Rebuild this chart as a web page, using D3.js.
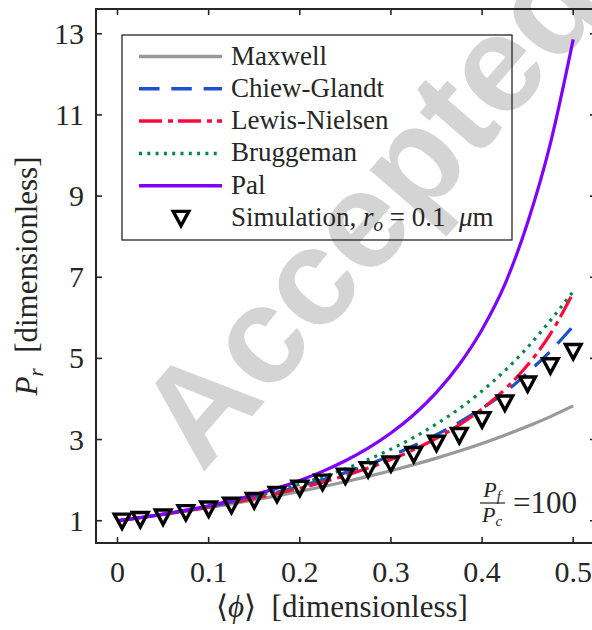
<!DOCTYPE html>
<html>
<head>
<meta charset="utf-8">
<script src="https://cdn.jsdelivr.net/npm/d3@7"></script>
<style>
  body { margin: 0; background: #fff; }
</style>
</head>
<body>
<div id="chart"></div>
<script>
// volume fraction grid for the model curves
const phi = [0, 0.025, 0.05, 0.075, 0.1, 0.125, 0.15, 0.175, 0.2, 0.225, 0.25,
             0.275, 0.3, 0.325, 0.35, 0.375, 0.4, 0.425, 0.45, 0.475, 0.5];

// model predictions
const maxwell = [1, 1.075, 1.153, 1.236, 1.323, 1.414, 1.511, 1.614, 1.723, 1.838, 1.961,
                 2.092, 2.232, 2.382, 2.543, 2.717, 2.904, 3.106, 3.326, 3.566, 3.83];
const chiew   = [1, 1.076, 1.158, 1.248, 1.346, 1.454, 1.572, 1.703, 1.848, 2.008, 2.185,
                 2.383, 2.602, 2.847, 3.121, 3.426, 3.769, 4.16, 4.65, 5.18, 5.8];
const lewis   = [1, 1.075, 1.156, 1.242, 1.335, 1.436, 1.547, 1.667, 1.8, 1.948, 2.113,
                 2.298, 2.509, 2.751, 3.032, 3.362, 3.757, 4.238, 4.836, 5.603, 6.62];
const brugg   = [1, 1.077, 1.161, 1.254, 1.358, 1.472, 1.6, 1.74, 1.9, 2.08, 2.28,
                 2.508, 2.763, 3.054, 3.384, 3.761, 4.198, 4.698, 5.275, 5.937, 6.65];
const pal     = [1, 1.077, 1.163, 1.26, 1.37, 1.496, 1.639, 1.803, 1.993, 2.216, 2.478,
                 2.789, 3.16, 3.61, 4.163, 4.851, 5.714, 6.825, 8.35, 10.3, 12.86];

// simulation points
const simPhi = [0.005, 0.025, 0.05, 0.075, 0.1, 0.125, 0.15, 0.175, 0.2, 0.225, 0.25,
                0.275, 0.3, 0.325, 0.35, 0.375, 0.4, 0.425, 0.45, 0.475, 0.5];
const simPr  = [1.0, 1.04, 1.1, 1.21, 1.3, 1.39, 1.51, 1.66, 1.81, 1.96, 2.11,
                2.27, 2.41, 2.64, 2.92, 3.11, 3.5, 3.91, 4.38, 4.83, 5.18];

const xTicks = [0, 0.1, 0.2, 0.3, 0.4, 0.5];
const yTicks = [1, 3, 5, 7, 9, 11, 13];

const series = [
  { name: "Maxwell",       values: maxwell, color: "#999999", dash: null },
  { name: "Chiew-Glandt",  values: chiew,   color: "#1f4fcc", dash: "20.5,11.8" },
  { name: "Lewis-Nielsen", values: lewis,   color: "#ff0a3c", dash: "23,6,5,5" },
  { name: "Bruggeman",     values: brugg,   color: "#00884a", dash: "3,5.3" },
  { name: "Pal",           values: pal,     color: "#7f00ff", dash: null }
];

const W = 592, H = 630;
const mLeft = 96, mRight = 596, mTop = 9, mBottom = 543;
const serif = "Liberation Serif, Times New Roman, serif";
const ink = "#262626";

const svg = d3.select("#chart").append("svg")
  .attr("width", W).attr("height", H)
  .attr("font-family", serif);

const x = d3.scaleLinear().domain([-0.0236, 0.525]).range([mLeft, mRight]);
const y = d3.scaleLinear().domain([0.451, 13.61]).range([mBottom, mTop]);

// watermark
svg.append("text")
  .attr("transform", "translate(202,474) rotate(-49)")
  .attr("font-family", "Liberation Sans, Arial, sans-serif")
  .attr("font-weight", "bold")
  .attr("font-size", 138)
  .attr("fill", "#d4d4d4")
  .text("Accepted");

// curves
const line = d3.line()
  .x((d, i) => x(phi[i]))
  .y(d => y(d))
  .curve(d3.curveMonotoneX);

const plot = svg.append("g");

series.forEach(s => {
  plot.append("path")
    .attr("d", line(s.values))
    .attr("fill", "none")
    .attr("stroke", s.color)
    .attr("stroke-width", 3.2)
    .attr("stroke-dasharray", s.dash);
});

// simulation markers (downward triangles)
const tri = "M-7.8,-6.6L7.8,-6.6L0,7.8Z";
plot.selectAll(".sim")
  .data(simPhi)
  .enter()
  .append("path")
  .attr("class", "sim")
  .attr("d", tri)
  .attr("transform", (d, i) => `translate(${x(d)},${y(simPr[i])})`)
  .attr("fill", "none")
  .attr("stroke", "#000")
  .attr("stroke-width", 3.4)
  .attr("stroke-linejoin", "miter");

// axes box with inward ticks on all sides
const axes = svg.append("g").attr("stroke", ink);
axes.append("rect")
  .attr("x", mLeft).attr("y", mTop)
  .attr("width", mRight - mLeft).attr("height", mBottom - mTop)
  .attr("fill", "none").attr("stroke-width", 2);

const tl = 6;
xTicks.forEach(t => {
  axes.append("line").attr("x1", x(t)).attr("x2", x(t))
    .attr("y1", mBottom).attr("y2", mBottom - tl).attr("stroke-width", 1.6);
  axes.append("line").attr("x1", x(t)).attr("x2", x(t))
    .attr("y1", mTop).attr("y2", mTop + tl).attr("stroke-width", 1.6);
});
yTicks.forEach(t => {
  axes.append("line").attr("x1", mLeft).attr("x2", mLeft + tl)
    .attr("y1", y(t)).attr("y2", y(t)).attr("stroke-width", 1.6);
  axes.append("line").attr("x1", mRight).attr("x2", mRight - tl)
    .attr("y1", y(t)).attr("y2", y(t)).attr("stroke-width", 1.6);
});

svg.append("g").selectAll("text")
  .data(xTicks)
  .enter()
  .append("text")
  .attr("x", d => x(d))
  .attr("y", 582)
  .attr("text-anchor", "middle")
  .attr("font-size", 30)
  .attr("fill", ink)
  .text(d => d === 0 ? "0" : d3.format(".1f")(d));

svg.append("g").selectAll("text")
  .data(yTicks)
  .enter()
  .append("text")
  .attr("x", 84)
  .attr("y", d => y(d) + 10)
  .attr("text-anchor", "end")
  .attr("font-size", 30)
  .attr("fill", ink)
  .text(d => d);

// axis labels
const xl = svg.append("text")
  .attr("x", 342)
  .attr("y", 617)
  .attr("text-anchor", "middle")
  .attr("font-size", 31)
  .attr("fill", ink);
xl.append("tspan").text("\u27E8");
xl.append("tspan").attr("font-style", "italic").text("\u03D5");
xl.append("tspan").text("\u27E9\u2002[dimensionless]");

const yl = svg.append("text")
  .attr("transform", `translate(37,${(mTop + mBottom) / 2}) rotate(-90)`)
  .attr("text-anchor", "middle")
  .attr("font-size", 31)
  .attr("fill", ink);
yl.append("tspan").attr("font-style", "italic").text("P");
yl.append("tspan").attr("font-style", "italic").attr("font-size", 21)
  .attr("dy", 6).text("r");
yl.append("tspan").attr("dy", -6).text("\u2002[dimensionless]");

// ratio annotation
const ann = svg.append("g").attr("fill", ink);
ann.append("text").attr("x", 492).attr("y", 497).attr("text-anchor", "middle")
  .attr("font-size", 22).attr("font-style", "italic")
  .call(t => {
    t.append("tspan").text("P");
    t.append("tspan").attr("dy", 4).attr("font-size", 15).text("f");
  });
ann.append("line").attr("x1", 480).attr("x2", 505).attr("y1", 503).attr("y2", 503)
  .attr("stroke", ink).attr("stroke-width", 1.2);
ann.append("text").attr("x", 492).attr("y", 522).attr("text-anchor", "middle")
  .attr("font-size", 22).attr("font-style", "italic")
  .call(t => {
    t.append("tspan").text("P");
    t.append("tspan").attr("dy", 4).attr("font-size", 15).text("c");
  });
ann.append("text").attr("x", 513).attr("y", 513)
  .attr("font-size", 31).text("=100");

// legend
const lg = svg.append("g");
lg.append("rect")
  .attr("x", 122).attr("y", 35).attr("width", 390).attr("height", 205)
  .attr("fill", "none").attr("stroke", ink).attr("stroke-width", 1.3);

const rowY = i => 56.5 + i * 32.3;
series.forEach((s, i) => {
  lg.append("line")
    .attr("x1", 139).attr("x2", 222)
    .attr("y1", rowY(i)).attr("y2", rowY(i))
    .attr("stroke", s.color).attr("stroke-width", 3.5)
    .attr("stroke-dasharray", s.dash);
  lg.append("text")
    .attr("x", 231).attr("y", rowY(i) + 8)
    .attr("font-size", 27)
    .attr("fill", ink)
    .text(s.name);
});
lg.append("path")
  .attr("d", tri)
  .attr("transform", `translate(181,${rowY(5)})`)
  .attr("fill", "none").attr("stroke", "#000").attr("stroke-width", 3.4);
const st = lg.append("text")
  .attr("x", 231).attr("y", rowY(5) + 8)
  .attr("font-size", 27)
  .attr("fill", ink);
st.append("tspan").text("Simulation, ");
st.append("tspan").attr("font-style", "italic").text("r");
st.append("tspan").attr("font-style", "italic").attr("font-size", 19).attr("dy", 5).text("o");
st.append("tspan").attr("dy", -5).text("\u2005=\u20050.1\u2002");
st.append("tspan").attr("font-style", "italic").text("\u03BC");
st.append("tspan").text("m");
</script>
</body>
</html>
